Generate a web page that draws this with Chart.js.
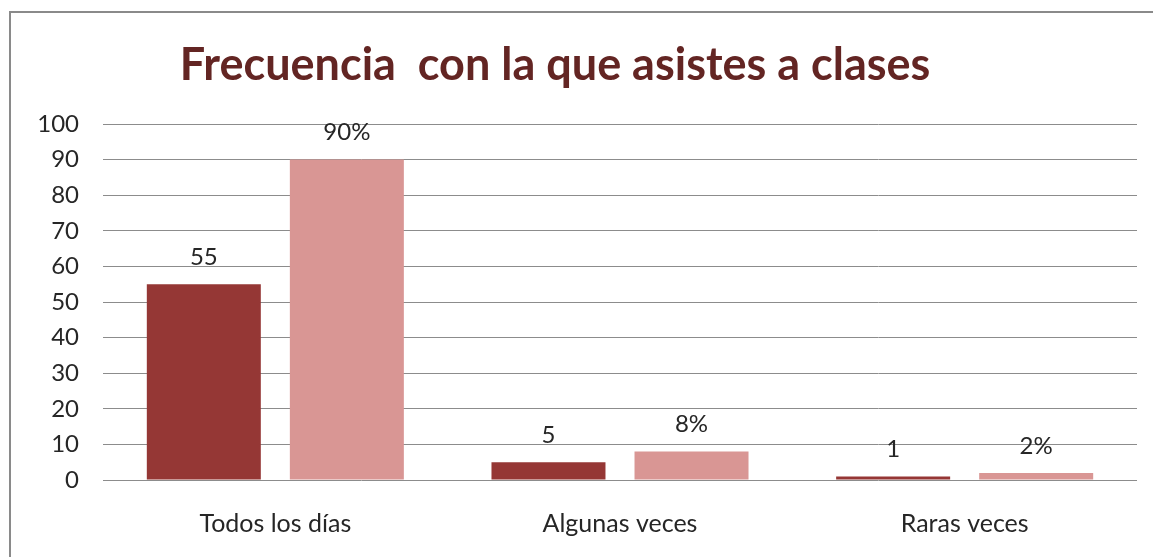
<!DOCTYPE html>
<html>
<head>
<meta charset="utf-8">
<script src="https://cdn.jsdelivr.net/npm/chart.js@4/dist/chart.umd.min.js"></script>
<style>
  html, body { margin: 0; padding: 0; background: #fff; }
  #wrap { position: relative; width: 1153px; height: 557px; overflow: hidden; }
  #frame { position: absolute; left: 9px; top: 11px; width: 1200px; height: 600px;
           border-left: 2px solid #8a8a8a; border-top: 2px solid #8a8a8a; box-sizing: border-box; }
  canvas { position: absolute; left: 0; top: 0; }
</style>
</head>
<body>
<div id="wrap">
  <div id="frame"></div>
  <canvas id="c" width="1153" height="557"></canvas>
</div>
<script>
const titleText = "Frecuencia  con la que asistes a clases";
const categories = ["Todos los días", "Algunas veces", "Raras veces"];
const countValues = [55, 5, 1];
const percentValues = [90, 8, 2];
const yTickMin = 0, yTickMax = 100, yTickStep = 10;

const FONT = "Lato, 'Open Sans', sans-serif";

const titlePlugin = {
  id: 'customTitle',
  afterDraw(chart) {
    const ctx = chart.ctx;
    ctx.save();
    ctx.font = "bold 45px " + FONT;
    ctx.fillStyle = "#632523";
    ctx.textAlign = "center";
    ctx.textBaseline = "middle";
    ctx.fillText(titleText, 555, 65);
    ctx.restore();
  }
};

const labelPlugin = {
  id: 'valueLabels',
  afterDatasetsDraw(chart) {
    const ctx = chart.ctx;
    ctx.save();
    ctx.font = "24px " + FONT;
    ctx.fillStyle = "#262626";
    ctx.textAlign = "center";
    ctx.textBaseline = "middle";
    chart.data.datasets.forEach((ds, di) => {
      const meta = chart.getDatasetMeta(di);
      meta.data.forEach((bar, i) => {
        const v = ds.data[i];
        const txt = di === 1 ? v + "%" : String(v);
        ctx.fillText(txt, bar.x, bar.y - 27);
      });
    });
    ctx.restore();
  }
};

new Chart(document.getElementById('c'), {
  type: 'bar',
  data: {
    labels: categories,
    datasets: [
      { label: "Cantidad", data: countValues, backgroundColor: "#953735",
        categoryPercentage: 0.83, barPercentage: 0.797 },
      { label: "Porcentaje", data: percentValues, backgroundColor: "#D99694",
        categoryPercentage: 0.83, barPercentage: 0.797 }
    ]
  },
  options: {
    responsive: false,
    animation: false,
    layout: { padding: { left: 0, right: 16, top: 124, bottom: 0 } },
    plugins: { legend: { display: false }, tooltip: { enabled: false }, title: { display: false } },
    scales: {
      x: {
        grid: { display: false, drawTicks: false },
        border: { display: false },
        ticks: { color: "#262626", font: { family: FONT, size: 25 }, padding: 29 },
        afterFit(scale) { scale.height = 77; }
      },
      y: {
        min: yTickMin, max: yTickMax,
        grid: { color: "#8c8c8c", lineWidth: 1, drawTicks: false },
        border: { display: false },
        ticks: { stepSize: yTickStep, color: "#262626", font: { family: FONT, size: 24 }, padding: 24 },
        afterFit(scale) { scale.width = 103; }
      }
    }
  },
  plugins: [titlePlugin, labelPlugin]
});
</script>
</body>
</html>
